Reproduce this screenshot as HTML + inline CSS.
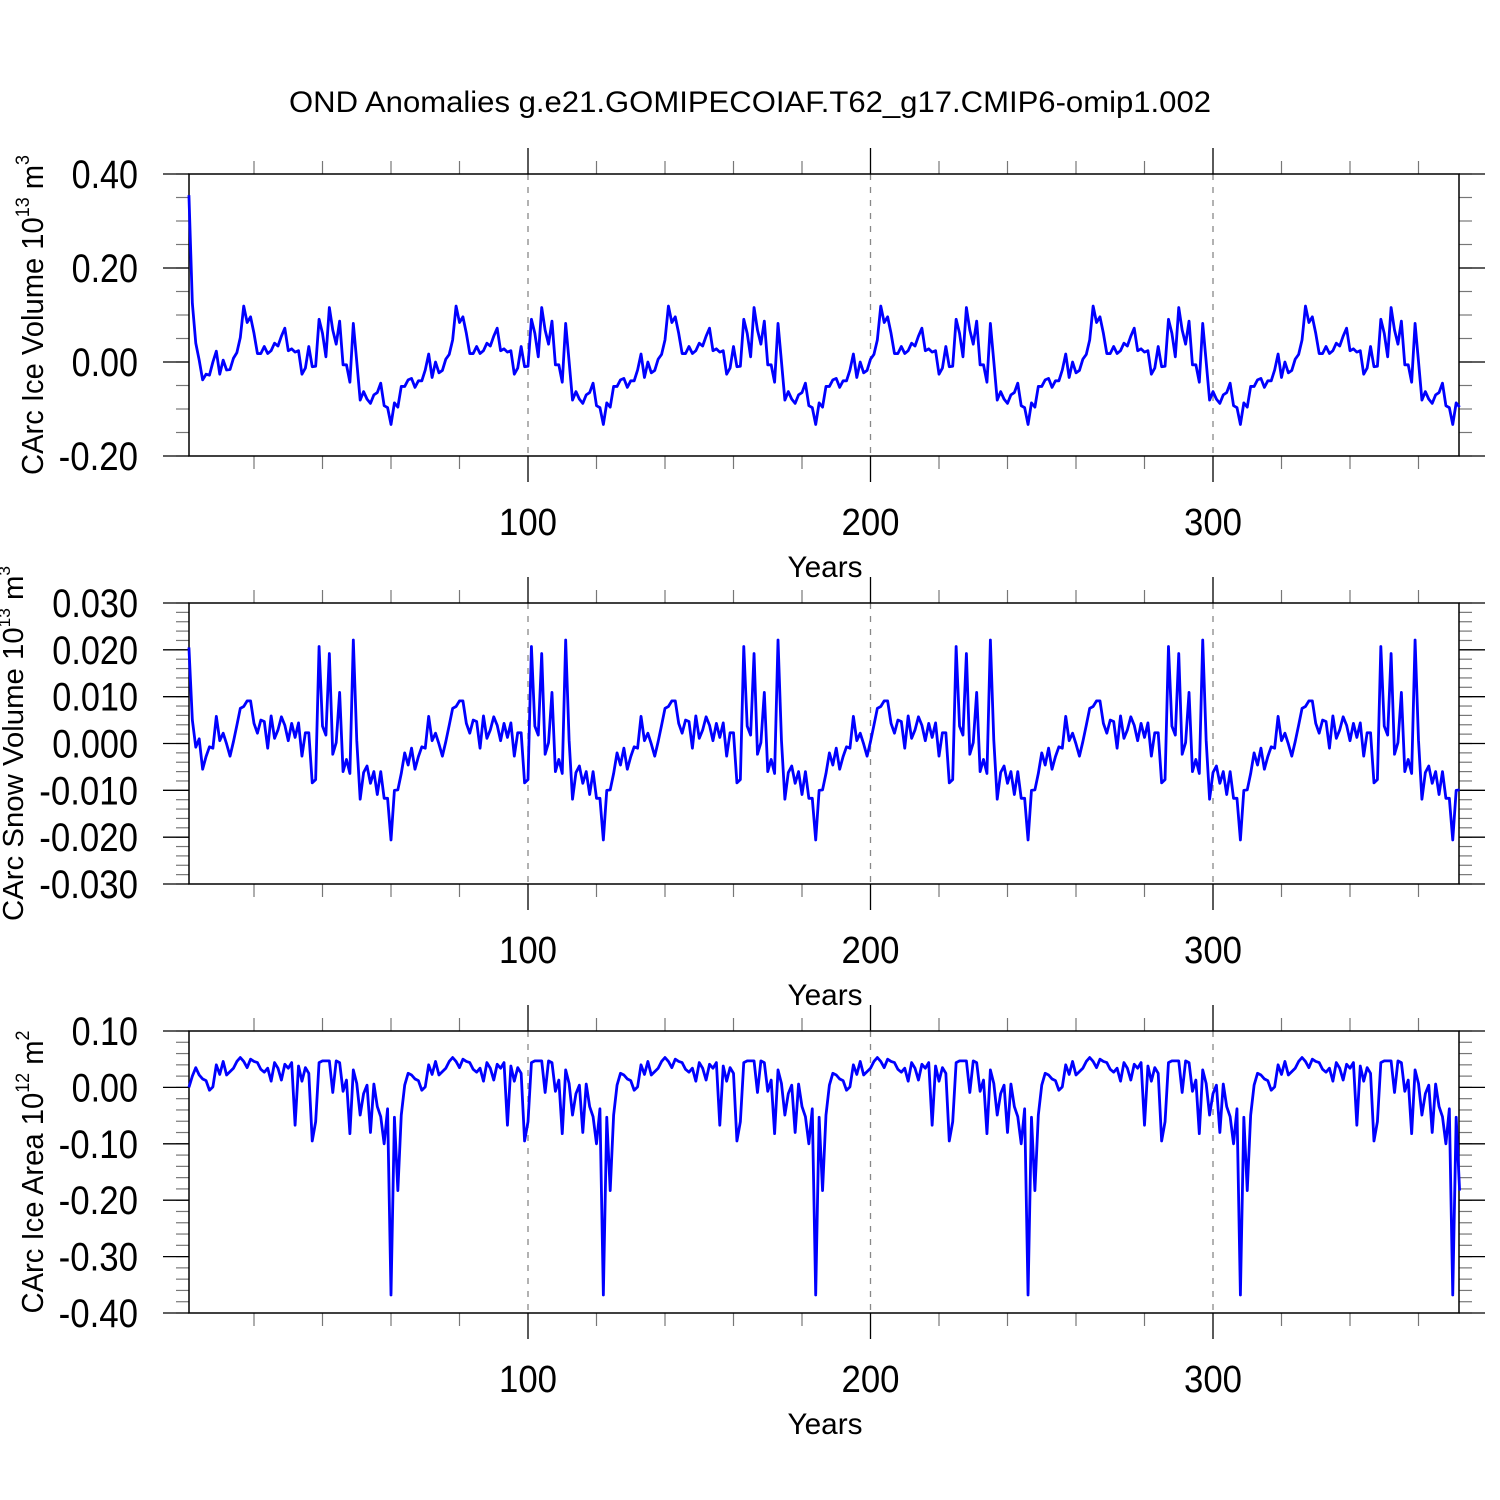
<!DOCTYPE html>
<html><head><meta charset="utf-8"><style>
html,body{margin:0;padding:0;background:#fff;}
svg{display:block;font-family:"Liberation Sans",Arial,sans-serif;}
</style></head><body>
<svg id="chart" width="1500" height="1500" viewBox="0 0 1500 1500" xmlns="http://www.w3.org/2000/svg">
<rect width="1500" height="1500" fill="#fff"/>
<text x="750" y="112" font-size="30" text-anchor="middle" textLength="922" lengthAdjust="spacingAndGlyphs">OND Anomalies g.e21.GOMIPECOIAF.T62_g17.CMIP6-omip1.002</text>
</svg>
<script>
// ---- data (one 62-year forcing cycle repeated 6 times, first years differ) ----
const xTicks = [100, 200, 300];
const xTickLabels = ["100", "200", "300"];

const iceVolHead = [0.355,0.125,0.04,0.004,-0.038,-0.026,-0.028,0,0.023,-0.026,0.004,-0.017,-0.016,0.008,0.02,0.052];
const iceVolCycle = [-0.052,-0.052,-0.038,-0.035,-0.054,-0.04,-0.04,-0.017,0.017,-0.033,0,-0.023,-0.018,0.006,0.016,0.047,
 0.119,0.084,0.096,0.061,0.018,0.018,0.033,0.018,0.024,0.04,0.034,0.055,0.072,0.024,0.028,0.021,0.024,-0.026,-0.013,0.033,-0.01,-0.009,0.091,0.061,0.011,0.116,0.068,0.038,0.087,-0.006,-0.006,-0.043,0.082,0.001,-0.081,-0.063,-0.079,-0.088,-0.07,-0.065,-0.045,-0.093,-0.097,-0.133,-0.087,-0.096];
const iceVolTicks = ["0.40","0.20","0.00","-0.20"];

const snowHead = [0.0205,0.005,-0.0008,0.001];
const snowCycle = [-0.0064,-0.002,-0.0046,-0.001,-0.0055,-0.0028,-0.0007,-0.001,0.0058,0.0006,0.0022,-0.0001,-0.0027,0.0004,0.0039,0.0075,0.0079,0.0091,0.0091,0.0043,0.0022,0.005,0.0047,-0.001,0.0059,0.0011,0.0029,0.0057,0.0039,0.0006,
 0.0043,0.0013,0.0044,-0.0027,0.0023,0.0023,-0.0084,-0.0077,0.0207,0.0037,0.0018,0.0192,-0.0023,0.0002,0.0109,-0.006,-0.0034,-0.0064,0.0221,0.0007,-0.0119,-0.0062,-0.0048,-0.0085,-0.006,-0.0109,-0.006,-0.0117,-0.0117,-0.0206,-0.01,-0.0099];
const snowTicks = ["0.030","0.020","0.010","0.000","-0.010","-0.020","-0.030"];

const areaHead = [0.0,0.02,0.035];
const areaCycle = [-0.049,0.004,0.025,0.022,0.015,0.012,-0.005,0.001,0.04,0.023,0.046,0.022,0.028,0.034,0.046,0.053,0.046,0.035,0.05,0.046,0.044,0.032,0.027,0.034,0.011,0.044,0.034,0.013,0.041,0.034,
 0.044,-0.067,0.038,0.011,0.035,0.025,-0.095,-0.061,0.044,0.047,0.047,0.047,-0.009,0.047,0.044,-0.007,0.013,-0.082,0.031,0.007,-0.049,-0.011,0.004,-0.08,0.006,-0.034,-0.052,-0.1,-0.038,-0.368,-0.053,-0.183];
const areaTicks = ["0.10","0.00","-0.10","-0.20","-0.30","-0.40"];

const iceVolume = [...iceVolHead, ...iceVolCycle.slice(iceVolHead.length), ...iceVolCycle, ...iceVolCycle, ...iceVolCycle, ...iceVolCycle, ...iceVolCycle];
const snowVolume = [...snowHead, ...snowCycle.slice(snowHead.length), ...snowCycle, ...snowCycle, ...snowCycle, ...snowCycle, ...snowCycle];
const iceArea = [...areaHead, ...areaCycle.slice(areaHead.length), ...areaCycle, ...areaCycle, ...areaCycle, ...areaCycle, ...areaCycle];

const NS = "http://www.w3.org/2000/svg";
const svg = document.getElementById("chart");
const X0 = 189, X1 = 1459;
function xScale(yr){ return 185.5 + yr * 3.425; }
function mk(tag, attrs, parent){ const e = document.createElementNS(NS, tag); for (const k in attrs) e.setAttribute(k, attrs[k]); (parent||svg).appendChild(e); return e; }
function labelWidth(s){ let w = 0; for (const ch of s) w += ch === "." ? 8.5 : ch === "-" ? 13 : 19.3; return w; }

function panel(p){
  const g = mk("g", {});
  
  
  const y = v => p.top + (p.ymax - v) / (p.ymax - p.ymin) * (p.bottom - p.top);
  xTicks.forEach(t => {
    const l = mk("line", {x1:xScale(t), x2:xScale(t), y1:p.top, y2:p.bottom, stroke:"#888", "stroke-width":1.3, "stroke-dasharray":"6 7"}, g);
    
    
  });
  for (let t = 20; t <= 360; t += 20) {
    if (xTicks.includes(t)) continue;
    const x = xScale(t);
    mk("line", {x1:x, x2:x, y1:p.top-13, y2:p.top, stroke:"#777", "stroke-width":1.2}, g);
    mk("line", {x1:x, x2:x, y1:p.bottom, y2:p.bottom+13, stroke:"#777", "stroke-width":1.2}, g);
  }
  xTicks.forEach((t, i) => {
    const x = xScale(t);
    mk("line", {x1:x, x2:x, y1:p.top-26, y2:p.top, stroke:"#000", "stroke-width":1.3}, g);
    mk("line", {x1:x, x2:x, y1:p.bottom, y2:p.bottom+26, stroke:"#000", "stroke-width":1.3}, g);
    const tl = mk("text", {x:x, y:p.bottom+79, "font-size":38, "text-anchor":"middle", textLength:58, lengthAdjust:"spacingAndGlyphs"}, g);
    
    
    tl.textContent = xTickLabels[i];
  });
  const nMin = Math.round((p.ymax - p.ymin) / p.minor);
  for (let i = 0; i <= nMin; i++) {
    const v = p.ymax - i * p.minor; const yy = y(v);
    mk("line", {x1:X0-13, x2:X0, y1:yy, y2:yy, stroke:"#777", "stroke-width":1.2}, g);
    mk("line", {x1:X1, x2:X1+13, y1:yy, y2:yy, stroke:"#777", "stroke-width":1.2}, g);
  }
  p.ticks.forEach(lbl => {
    const yy = y(parseFloat(lbl));
    mk("line", {x1:X0-26, x2:X0, y1:yy, y2:yy, stroke:"#000", "stroke-width":1.3}, g);
    mk("line", {x1:X1, x2:X1+26, y1:yy, y2:yy, stroke:"#000", "stroke-width":1.3}, g);
    const w = labelWidth(lbl);
    const tl = mk("text", {x:138 - w, y:yy+14, "font-size":40, "text-anchor":"start", textLength:w, lengthAdjust:"spacingAndGlyphs"}, g);
    
    
    tl.textContent = lbl;
  });
  const fr = mk("rect", {x:X0, y:p.top, width:X1-X0, height:p.bottom-p.top, fill:"none", stroke:"#000", "stroke-width":1.5}, g);
  
  
  const d = p.data.map((v, i) => (i ? "L" : "M") + xScale(i + 1).toFixed(2) + "," + y(v).toFixed(2)).join("");
  const path = mk("path", {d:d, fill:"none", stroke:"#0000ff", "stroke-width":2.8, "stroke-linejoin":"round"}, g);
  
  
  const xt = mk("text", {x:825, y:p.bottom+121, "font-size":30, "text-anchor":"middle", textLength:75, lengthAdjust:"spacingAndGlyphs"}, g);
  
  
  xt.textContent = "Years";
  const cy = (p.top + p.bottom) / 2;
  const yt = mk("text", {x:0, y:0, "font-size":p.labelSize, "text-anchor":"middle", textLength:p.labelLen, lengthAdjust:"spacingAndGlyphs", transform:"translate(" + p.labelX + "," + cy + ") rotate(-90)"}, g);
  
  
  const a = mk("tspan", {}, yt); a.textContent = p.label + " 10";
  const b = mk("tspan", {"font-size":Math.round(p.labelSize*0.6), dy:-Math.round(p.labelSize*0.45)}, yt); b.textContent = p.exp1;
  const c = mk("tspan", {dy:Math.round(p.labelSize*0.45)}, yt); c.textContent = " m";
  const e = mk("tspan", {"font-size":Math.round(p.labelSize*0.6), dy:-Math.round(p.labelSize*0.45)}, yt); e.textContent = p.exp2;
}

panel({name:"ice-volume-panel", top:174, bottom:456, ymin:-0.2, ymax:0.4, minor:0.05, ticks:iceVolTicks, data:iceVolume, label:"CArc Ice Volume", exp1:"13", exp2:"3", labelLen:320, labelX:43, labelSize:31});
panel({name:"snow-volume-panel", top:603, bottom:884, ymin:-0.03, ymax:0.03, minor:0.002, ticks:snowTicks, data:snowVolume, label:"CArc Snow Volume", exp1:"13", exp2:"3", labelLen:355, labelX:23, labelSize:29});
panel({name:"ice-area-panel", top:1031, bottom:1313, ymin:-0.4, ymax:0.1, minor:0.02, ticks:areaTicks, data:iceArea, label:"CArc Ice Area", exp1:"12", exp2:"2", labelLen:283, labelX:43, labelSize:31});
</script>
</body></html>
